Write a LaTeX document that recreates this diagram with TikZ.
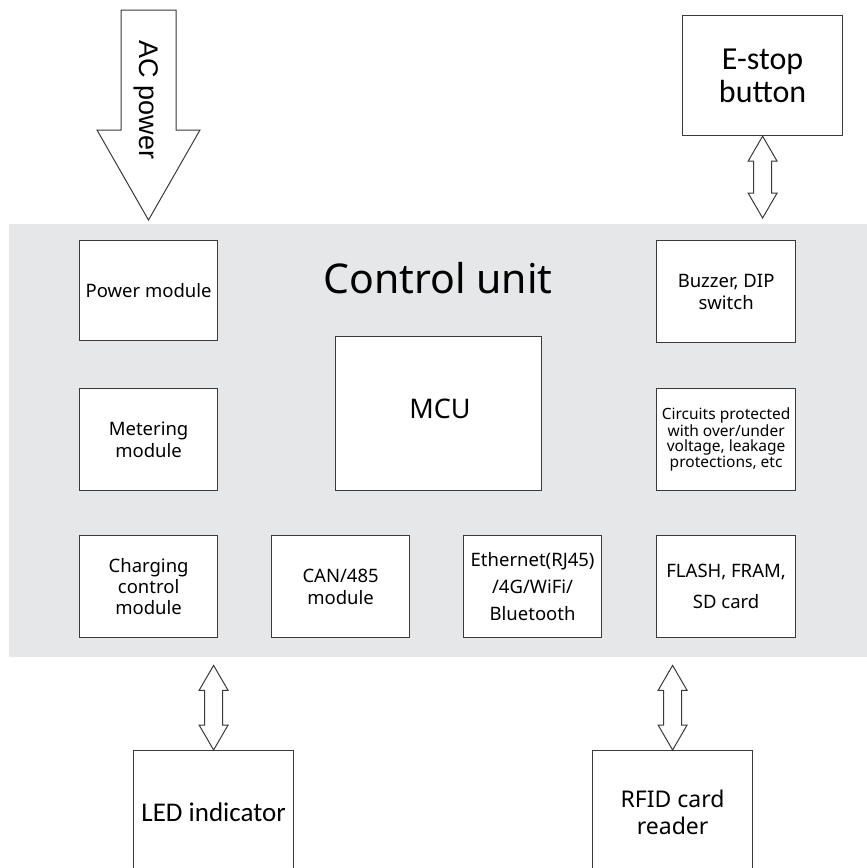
\documentclass[tikz,border=0pt]{standalone}
\usepackage{fontspec}
\setmainfont{Noto Sans}
\newfontfamily\carl{Carlito}
\newfontfamily\arialf{Liberation Sans}
\usetikzlibrary{calc}
\definecolor{panelgray}{HTML}{E6E7E8}
\definecolor{edge}{HTML}{3A3A3A}
\tikzset{
  blk/.style={draw=edge, line width=1.2pt, fill=white, inner sep=2pt, align=center, anchor=north west, text=black},
  arr/.style={draw=edge, line width=1pt, fill=white, line join=miter},
}
\newcommand\dblarr[2]{%
  \draw[arr] (#1) -- ($(#1)+(14.5,25)$) -- ($(#1)+(9,25)$) -- ($(#2)+(9,-25)$) -- ($(#2)+(14.5,-25)$) -- (#2)
    -- ($(#2)+(-14.5,-25)$) -- ($(#2)+(-9,-25)$) -- ($(#1)+(-9,25)$) -- ($(#1)+(-14.5,25)$) -- cycle;}
\begin{document}
\begin{tikzpicture}[x=1pt,y=-1pt]
\useasboundingbox (0,0) rectangle (867,868);
\fill[white] (0,0) rectangle (867,868);
% panel
\node[fill=panelgray, minimum width=858pt, minimum height=433pt, anchor=north west, inner sep=0pt] (panel) at (9,224) {};
\node[font=\fontsize{41}{48}\selectfont] (title) at (438,278) {Control unit};
% left column
\node[blk, minimum width=138pt, minimum height=100pt, font=\fontsize{18.5}{22}\selectfont] (power) at (79,240) {Power module};
\node[blk, minimum width=138pt, minimum height=102pt, font=\fontsize{18.5}{22}\selectfont] (meter) at (79,388) {Metering\\module};
\node[blk, minimum width=138pt, minimum height=102pt, font=\fontsize{18.5}{21}\selectfont] (charge) at (79,535) {Charging\\control\\module};
% bottom row
\node[blk, minimum width=138pt, minimum height=102pt, font=\fontsize{18.5}{22}\selectfont] (can) at (271,535) {CAN/485\\module};
\node[blk, minimum width=138pt, minimum height=102pt, font=\fontsize{18.5}{27}\selectfont] (eth) at (463,535) {Ethernet(RJ45)\\/4G/WiFi/\\Bluetooth};
\node[blk, minimum width=139pt, minimum height=102pt, font=\fontsize{18.5}{31}\selectfont] (flash) at (656,535) {FLASH, FRAM,\\SD card};
% right column
\node[blk, minimum width=139pt, minimum height=102pt, font=\fontsize{18.5}{22}\selectfont] (buzz) at (656,240) {Buzzer, DIP\\switch};
\node[blk, minimum width=139pt, minimum height=102pt, font=\fontsize{15.5}{15}\selectfont] (circ) at (656,388) {Circuits protected\\with over/under\\voltage, leakage\\protections, etc};
% MCU
\node[blk, minimum width=206pt, minimum height=154pt] (mcu) at (335,336) {};
\node[font=\fontsize{27}{32}\selectfont] (mcut) at (440,409) {MCU};
% outside boxes
\node[blk, minimum width=160pt, minimum height=120pt, font=\carl\fontsize{32}{33}\selectfont] (estop) at (682,15) {E-stop\\button};
\node[blk, minimum width=160pt, minimum height=124pt, font=\carl\fontsize{27}{34}\selectfont] (led) at (133,750) {LED indicator};
\node[blk, minimum width=160pt, minimum height=124pt, font=\fontsize{23}{27}\selectfont] (rfid) at (592,750) {RFID card\\reader};
% AC power arrow
\coordinate (acTop) at (148.5,10);
\coordinate (acTip) at ($(acTop |- panel.north)+(0,-4)$);
\draw[arr] ($(acTop)+(-27.5,0)$) -- ($(acTop)+(27.5,0)$) -- ($(acTop)+(27.5,120)$) -- ($(acTop)+(51.5,120)$)
  -- (acTip) -- ($(acTop)+(-51.5,120)$) -- ($(acTop)+(-27.5,120)$) -- cycle;
\node[rotate=-90, font=\arialf\fontsize{27}{30}\selectfont, inner sep=0pt] (ac) at (146,100) {AC power};
% double arrows
\coordinate (e2) at ($(estop.south |- panel.north)+(0,-6)$);
\dblarr{estop.south}{e2}
\coordinate (l1) at ($(led.north |- panel.south)+(0,8)$);
\dblarr{l1}{led.north}
\coordinate (r1) at ($(rfid.north |- panel.south)+(0,8)$);
\dblarr{r1}{rfid.north}
\end{tikzpicture}
\end{document}
